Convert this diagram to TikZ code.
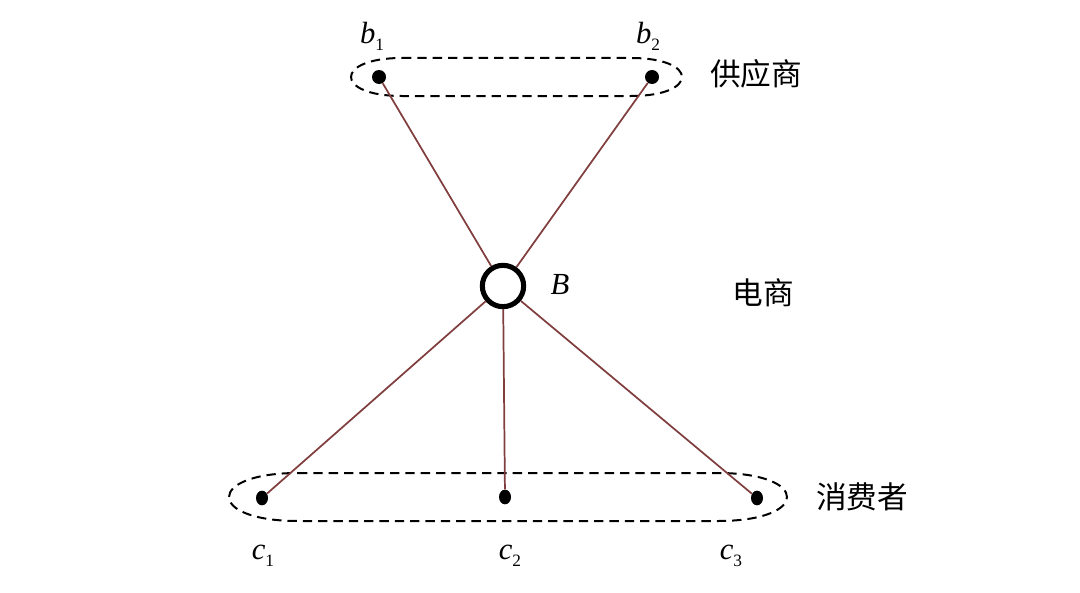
\documentclass[tikz,border=0pt]{standalone}
\usepackage{fontspec}
\setmainfont{Liberation Serif}
\newfontfamily\cjk{Noto Sans CJK SC}
\usetikzlibrary{shapes.geometric}
\definecolor{linkbrown}{RGB}{128,62,62}
\newcommand\mylab[2]{\textit{#1}\raisebox{-0.5ex}{\fontsize{13}{13}\selectfont #2}}
\tikzset{
  dot/.style={circle,fill=black,inner sep=0pt,minimum size=10.5pt},
  cdot/.style={ellipse,fill=black,inner sep=0pt,minimum width=9pt,minimum height=11pt},
  hub/.style={circle,draw=black,line width=3.8pt,fill=white,inner sep=0pt,minimum size=31pt},
  group/.style={draw=black,dash pattern=on 7pt off 4.5pt,line width=1.5pt},
  link/.style={draw=linkbrown,line width=1.3pt},
  lbl/.style={inner sep=0pt,font=\fontsize{23}{23}\selectfont},
  cn/.style={inner sep=0pt,font=\cjk\fontsize{23}{23}\selectfont}
}
\begin{document}
\begin{tikzpicture}[x=0.75pt,y=-0.75pt]
\useasboundingbox (0,0) rectangle (1080,592);
% dashed groups
\draw[group] (402,58) -- (631,58) .. controls (699,58) and (699,96) .. (631,96)
  -- (402,96) .. controls (334,96) and (334,58) .. (402,58) -- cycle;
\draw[group] (298,473) -- (718,473) .. controls (810,473) and (810,521) .. (718,521)
  -- (298,521) .. controls (206,521) and (206,473) .. (298,473) -- cycle;
\node[dot] (b1) at (379,77) {};
\node[dot] (b2) at (652,77) {};
\node[cdot] (c1) at (262,498) {};
\node[cdot] (c2) at (505,497) {};
\node[cdot] (c3) at (757,498) {};
\node[hub] (B) at (503,286) {};
\draw[link] (b1) -- (B);
\draw[link] (b2) -- (B);
\draw[link] (c1) -- (B);
\draw[link] (c2) -- (B);
\draw[link] (c3) -- (B);
\node[lbl] (lb1) at (372,36) {\mylab{b}{1}};
\node[lbl] (lb2) at (648,36) {\mylab{b}{2}};
\node[lbl] (lB) at (560,285) {\textit{B}};
\node[lbl] (lc1) at (263,556) {\mylab{c}{1}};
\node[lbl] (lc2) at (510,556) {\mylab{c}{2}};
\node[lbl] (lc3) at (731,556) {\mylab{c}{3}};
\node[cn] (sup) at (756,74) {供应商};
\node[cn] (ec) at (763,293) {电商};
\node[cn] (con) at (862,497) {消费者};
\end{tikzpicture}
\end{document}
